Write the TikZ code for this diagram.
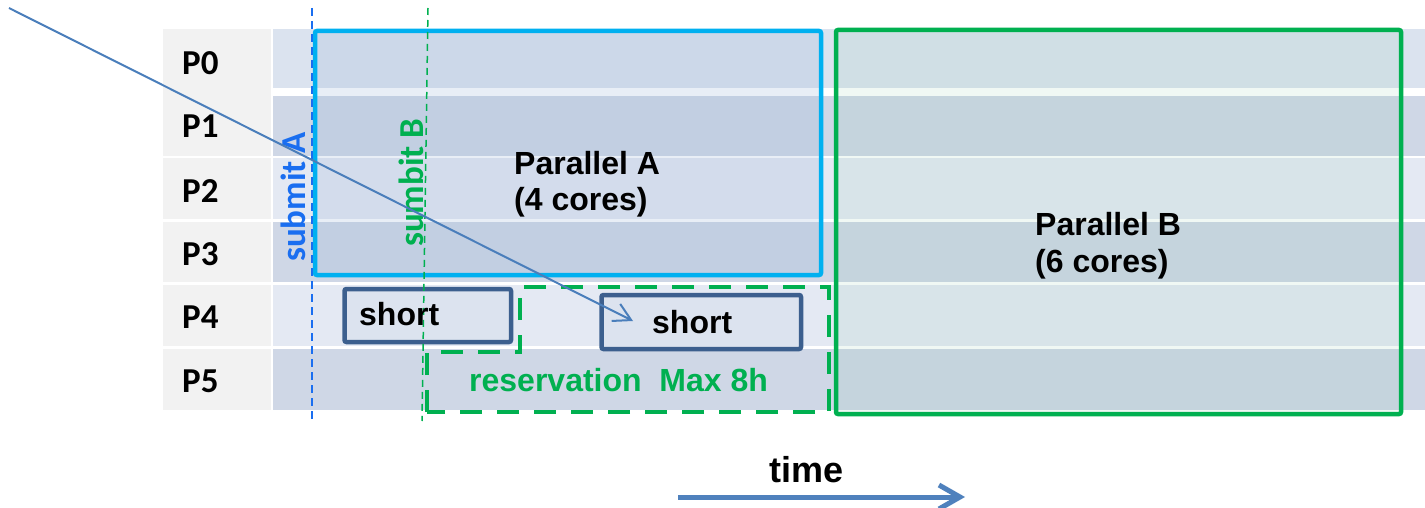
\documentclass[tikz,border=0pt]{standalone}
\usepackage{fontspec}
\setmainfont{Liberation Sans}
\newfontfamily\calib{Carlito}
\usetikzlibrary{arrows.meta}

\definecolor{labelbg}{HTML}{F2F2F2}
\definecolor{rowhead}{HTML}{DBE3EF}
\definecolor{rowodd}{HTML}{CFD7E6}
\definecolor{roweven}{HTML}{E4E9F3}
\definecolor{jobA}{HTML}{00B0F0}
\definecolor{jobAfill}{HTML}{9BB5D8}
\definecolor{jobB}{HTML}{00B050}
\definecolor{jobBfill}{HTML}{77BF9B}
\definecolor{shortline}{HTML}{3C5F8E}
\definecolor{shortfill}{HTML}{DCE3EF}
\definecolor{submitblue}{HTML}{1A6EF0}
\definecolor{arrowblue}{HTML}{4A7EBB}
\definecolor{timeblue}{HTML}{4F81BD}

\tikzset{
  proclabel/.style={font=\calib\bfseries\fontsize{35}{42}\selectfont, anchor=base west, inner sep=0pt},
  submitlabel/.style={font=\calib\bfseries\fontsize{35}{42}\selectfont, anchor=base west, inner sep=0pt, rotate=90},
  jobtext/.style={font=\bfseries\fontsize{32}{37}\selectfont, anchor=base west, inner sep=0pt},
  jobbox/.style={rectangle, line width=4.5pt, rounded corners=2pt, inner sep=0pt, outer sep=0pt},
  shortbox/.style={rectangle, draw=shortline, fill=shortfill, line width=4.5pt, rounded corners=2pt, inner sep=0pt, outer sep=0pt},
  resvline/.style={draw=jobB, line width=4.5pt, dash pattern=on 22pt off 15pt},
  submitline/.style={line width=2pt, dash pattern=on 8pt off 5pt},
}

\begin{document}
\begin{tikzpicture}[x=1pt,y=-1pt]
\useasboundingbox (0,0) rectangle (1425,508);

% processor table: label column and time line cells
\foreach \top/\bot/\col in {29/88/rowhead, 96/156/rowodd, 158.5/219/roweven,
                            221.5/282/rowodd, 284.5/346/roweven, 348.5/410/rowodd} {
  \fill[labelbg] (163,\top) rectangle (271,\bot);
  \fill[\col] (273,\top) rectangle (1425,\bot);
}
\fill[labelbg] (163,88) rectangle (271,96);

% running jobs
\node[jobbox, draw=jobA, fill=jobAfill, fill opacity=0.23, draw opacity=1,
      minimum width=506pt, minimum height=244pt] (parA) at (568,153) {};
\node[jobbox, draw=jobB, fill=jobBfill, fill opacity=0.11, draw opacity=1,
      minimum width=565pt, minimum height=384pt] (parB) at (1118.5,222) {};

% reservation window for job B
\draw[resvline] (427,412) -- (427,352) -- (520,352) -- (520,287) -- (829,287) -- (829,412) -- cycle;

% short jobs
\node[shortbox, minimum width=166.5pt, minimum height=53pt] (short1) at (427.75,315.5) {};
\node[shortbox, minimum width=199.5pt, minimum height=54pt] (short2) at (701.25,322) {};

% submission instants
\coordinate (subAtop) at (312,8);
\coordinate (subAbot) at (312,422);
\coordinate (subBtop) at (428,8);
\coordinate (subBbot) at (422,421);
\draw[submitline, submitblue] (subAtop) -- (subAbot);
\draw[jobB, line width=1.5pt, dash pattern=on 7pt off 5pt] (subBtop) -- (subBbot);

% row labels
\node[proclabel] (p0) at (182,75) {P0};
\node[proclabel] (p1) at (182,138) {P1};
\node[proclabel] (p2) at (182,202) {P2};
\node[proclabel] (p3) at (182,265) {P3};
\node[proclabel] (p4) at (182,328) {P4};
\node[proclabel] (p5) at (182,392) {P5};

\node[submitlabel, text=submitblue] (subA) at (305,262) {submit A};
\node[submitlabel, text=jobB] (subB) at (423,247) {sumbit B};

% job texts
\node[jobtext] (parAname) at (514,175) {Parallel A};
\node[jobtext] (parAcores) at (514,211) {(4 cores)};
\node[jobtext] (parBname) at (1035,235) {Parallel B};
\node[jobtext] (parBcores) at (1035,272) {(6 cores)};
\node[jobtext] (short1txt) at (359,325) {short};
\node[jobtext] (short2txt) at (652,333) {short};
\node[jobtext, text=jobB] (resvtxt) at (469,391) {reservation~~Max 8h};

% backfilling move of the short job
\coordinate (moveFrom) at (9,8);
\coordinate (moveTo) at (633,321);
\draw[arrowblue, line width=2pt, -{Straight Barb[length=17pt,width=19pt]}] (moveFrom) -- (moveTo);

% time axis
\node[font=\bfseries\fontsize{36}{42}\selectfont, anchor=base west, inner sep=0pt] (timetxt) at (769,482) {time};
\coordinate (timeFrom) at (678,497);
\coordinate (timeTo) at (965,497);
\draw[timeblue, line width=5pt, -{Straight Barb[length=21pt,width=24pt]}] (timeFrom) -- (timeTo);
\end{tikzpicture}
\end{document}
